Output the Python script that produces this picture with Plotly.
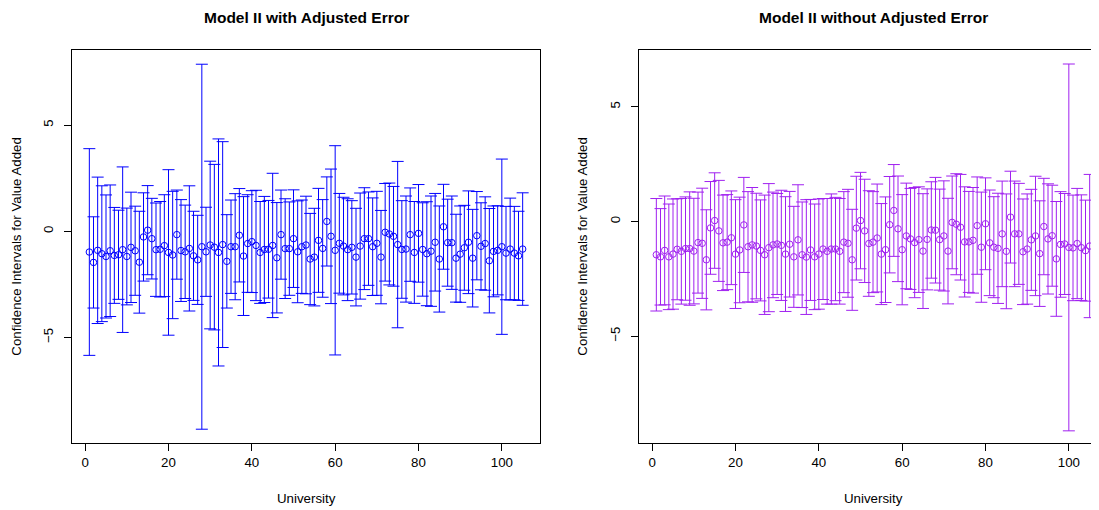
import plotly.graph_objects as go

university = list(range(1, 106))

with_adj_est = [
    -0.98, -1.47, -0.90, -1.06, -1.19, -0.92, -1.14, -1.11, -0.87, -1.19,
    -0.76, -0.92, -1.46, -0.27, 0.05, -0.35, -0.87, -0.85, -0.68, -1.00,
    -1.12, -0.16, -0.91, -0.97, -0.81, -1.16, -1.35, -0.73, -0.97, -0.65,
    -0.75, -1.00, -0.63, -1.42, -0.73, -0.73, -0.19, -1.17, -0.58, -0.49,
    -0.67, -1.00, -0.86, -0.85, -0.67, -1.25, -0.16, -0.82, -0.82, -0.35,
    -0.97, -0.73, -0.65, -1.31, -1.22, -0.43, -0.81, 0.46, -0.24, -0.90,
    -0.57, -0.70, -0.87, -0.76, -1.22, -0.70, -0.35, -0.35, -0.73, -0.57,
    -1.22, -0.05, -0.13, -0.24, -0.63, -0.86, -0.84, -0.16, -1.00, -0.10,
    -0.86, -1.06, -0.94, -0.52, -1.31, 0.21, -0.54, -0.54, -1.27, -1.08,
    -0.78, -0.52, -1.27, -0.21, -0.71, -0.58, -1.39, -0.95, -0.90, -0.73,
    -1.03, -0.84, -1.03, -1.16, -0.84,
]
with_adj_half = [
    4.87, 2.15, 3.45, 3.2, 2.9, 3.1, 2.26, 2.1, 3.9, 2.28,
    2.6, 2.1, 2.4, 2.08, 2.1, 1.9, 2.2, 2.25, 2.4, 3.9,
    3.0, 2.1, 2.4, 2.2, 2.95, 2.1, 2.1, 8.6, 2.1, 3.95,
    3.9, 5.35, 4.85, 2.2, 2.2, 2.5, 2.2, 2.8, 2.3, 2.4,
    2.6, 2.4, 2.5, 2.3, 3.4, 2.6, 2.1, 2.35, 2.2, 2.3,
    2.4, 2.2, 2.3, 2.15, 2.3, 2.45, 2.3, 2.1, 3.17, 4.93,
    2.35, 2.3, 2.4, 2.2, 2.3, 2.5, 2.4, 2.2, 2.3, 2.45,
    2.2, 2.3, 2.4, 2.35, 3.92, 2.3, 2.5, 2.2, 2.4, 2.3,
    2.2, 2.45, 2.6, 2.3, 2.5, 2.0, 2.05, 2.2, 2.07, 2.27,
    2.0, 2.42, 2.3, 2.08, 2.05, 2.2, 2.46, 2.14, 2.1, 4.13,
    2.2, 2.4, 2.2, 2.1, 2.65,
]

without_adj_est = [
    -1.45, -1.54, -1.26, -1.54, -1.42, -1.21, -1.30, -1.18, -1.18, -1.29,
    -0.92, -0.95, -1.67, -0.28, 0.04, -0.41, -0.93, -0.90, -0.71, -1.42,
    -1.24, -0.15, -1.10, -1.02, -1.07, -1.26, -1.45, -1.14, -1.02, -0.98,
    -1.04, -1.42, -0.99, -1.54, -0.80, -1.45, -1.55, -1.24, -1.54, -1.42,
    -1.20, -1.30, -1.20, -1.20, -1.30, -0.90, -0.95, -1.67, -0.29, 0.04,
    -0.41, -0.96, -0.90, -0.72, -1.42, -1.23, -0.14, 0.48, -0.32, -1.23,
    -0.63, -0.76, -0.92, -0.79, -1.29, -0.78, -0.37, -0.38, -0.79, -0.63,
    -1.29, -0.04, -0.12, -0.25, -0.89, -0.89, -0.82, -0.18, -1.12, -0.10,
    -0.93, -1.12, -1.17, -0.54, -1.30, 0.19, -0.54, -0.54, -1.32, -1.20,
    -0.80, -0.63, -1.40, -0.22, -0.76, -0.62, -1.63, -1.00, -0.98, -1.13,
    -1.15, -0.96, -1.14, -1.27, -1.07,
]
without_adj_half = [
    2.45, 2.1, 2.37, 2.3, 2.4, 2.2, 2.3, 2.25, 2.47, 2.3,
    2.2, 2.4, 2.18, 2.02, 2.08, 2.2, 2.08, 2.07, 2.04, 2.37,
    2.3, 2.07, 2.4, 2.5, 2.3, 2.2, 2.6, 2.79, 2.3, 2.2,
    2.4, 2.5, 2.3, 2.2, 2.4, 2.3, 2.5, 2.2, 2.3, 2.4,
    2.2, 2.3, 2.4, 2.25, 2.3, 2.2, 2.35, 2.2, 2.26, 2.1,
    2.25, 2.3, 2.2, 2.35, 2.2, 2.3, 2.1, 2.0, 2.3, 2.4,
    2.3, 2.2, 2.4, 2.3, 2.5, 2.2, 2.1, 2.3, 2.2, 2.4,
    2.3, 2.02, 2.2, 2.3, 2.4, 2.2, 2.3, 2.12, 2.4, 2.0,
    2.3, 2.2, 2.4, 2.3, 2.5, 2.0, 2.3, 2.2, 2.3, 2.4,
    2.2, 2.6, 2.3, 2.1, 2.4, 2.2, 2.5, 2.3, 2.2, 7.99,
    2.3, 2.4, 2.3, 2.2, 3.12,
]

titles = ["Model II with Adjusted Error", "Model II without Adjusted Error"]
x_title = "University"
y_title = "Confidence Intervals for Value Added"
x_ticks = [0, 20, 40, 60, 80, 100]
y_ticks = [-5, 0, 5]

BLUE = "#0000FF"
PURPLE = "#A020F0"
FONT = "Liberation Sans, Arial, Helvetica, sans-serif"
TXT = 13.3
MAIN = 15.5

fig = go.Figure()
fig.add_trace(go.Scatter(
    x=university, y=with_adj_est, mode="markers",
    marker=dict(symbol="circle-open", size=6.5, color=BLUE, line=dict(width=1, color=BLUE)),
    error_y=dict(type="data", array=with_adj_half, symmetric=True, color=BLUE, thickness=1, width=6),
    xaxis="x", yaxis="y", showlegend=False, hoverinfo="skip",
))
fig.add_trace(go.Scatter(
    x=university, y=without_adj_est, mode="markers",
    marker=dict(symbol="circle-open", size=6.5, color=PURPLE, line=dict(width=1, color=PURPLE)),
    error_y=dict(type="data", array=without_adj_half, symmetric=True, color=PURPLE, thickness=1, width=6),
    xaxis="x2", yaxis="y2", showlegend=False, hoverinfo="skip",
))

# page body has an 8px margin; reference pixel coordinates are shifted by it
OFF = 8
W, H = 1099 - OFF, 510 - OFF
ML, MR = 72 - OFF, 0
MT = 50 - OFF
MB = H - (443 - OFF)
PW = W - ML - MR
PH = H - MT - MB


def px_x(p):
    return (p - OFF - ML) / PW


def px_y(p):
    return (H - MB - (p - OFF)) / PH


scale = (540 - 72) / 112.32  # px per unit
right_end = -3.16 + (1099 - 639) / scale

axis_common = dict(
    showgrid=False, zeroline=False, showline=True, linecolor="black", linewidth=1,
    ticks="outside", ticklen=7, tickwidth=1, tickcolor="black",
    tickfont=dict(family=FONT, size=TXT, color="black"),
)

fig.update_layout(
    width=W, height=H,
    margin=dict(l=ML, r=MR, t=MT, b=MB, pad=0),
    paper_bgcolor="white", plot_bgcolor="white",
    font=dict(family=FONT, size=TXT, color="black"),
    xaxis=dict(domain=[0, px_x(540)], range=[-3.16, 109.16], tickvals=x_ticks,
               mirror=True, anchor="y", **axis_common),
    yaxis=dict(domain=[0, 1], range=[-9.98, 8.54], tickvals=y_ticks, tickangle=-90,
               mirror=True, anchor="x", ticklabelstandoff=6, **axis_common),
    xaxis2=dict(domain=[px_x(639), 1], range=[-3.16, right_end], tickvals=x_ticks,
                mirror=True, anchor="y2", **axis_common),
    yaxis2=dict(domain=[0, 1], range=[-9.65, 7.47], tickvals=y_ticks, tickangle=-90,
                mirror=False, anchor="x2", ticklabelstandoff=6, **axis_common),
    hovermode=False,
)

centers = [(72 + 540) / 2, (639 + 1107) / 2]
ytitle_x = [17, 583]
for i in range(2):
    fig.add_annotation(text="<b>" + titles[i] + "</b>", x=px_x(centers[i]), y=px_y(18),
                       xref="paper", yref="paper", showarrow=False,
                       font=dict(family=FONT, size=MAIN, color="black"),
                       xanchor="center", yanchor="middle")
    fig.add_annotation(text=x_title, x=px_x(centers[i]), y=px_y(498),
                       xref="paper", yref="paper", showarrow=False,
                       font=dict(family=FONT, size=TXT, color="black"),
                       xanchor="center", yanchor="middle")
    fig.add_annotation(text=y_title, x=px_x(ytitle_x[i]), y=px_y(246.7),
                       xref="paper", yref="paper", showarrow=False, textangle=-90,
                       font=dict(family=FONT, size=TXT, color="black"),
                       xanchor="center", yanchor="middle")

fig.write_html("out.html")
